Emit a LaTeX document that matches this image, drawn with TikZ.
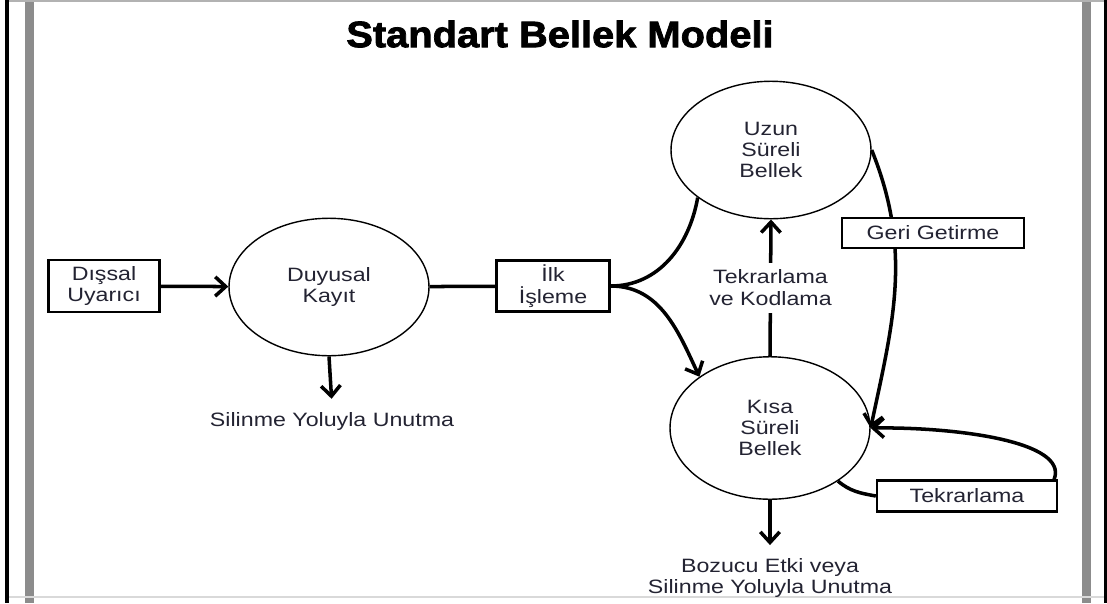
\documentclass[tikz,border=0pt]{standalone}
\usepackage{fontspec}
\setmainfont{Liberation Sans}[FakeStretch=1.2]
\newfontfamily\baslikfont{Liberation Sans}[FakeStretch=1.08,FakeBold=2]
\usetikzlibrary{shapes.geometric,arrows.meta,positioning}
\definecolor{metinRenk}{RGB}{35,35,50}
\definecolor{cerceveGri}{RGB}{140,140,140}

\begin{document}
\begin{tikzpicture}[
  x=0.02cm, y=-0.02cm,
  every node/.style={font=\fontsize{11}{12.2}\selectfont, text=metinRenk},
  kutu/.style={draw, line width=1.3pt, fill=white, align=center, inner sep=2pt},
  bellek/.style={ellipse, draw, line width=0.8pt, minimum width=4cm,
                 minimum height=2.75cm, align=center},
  ok/.style={-{Straight Barb[length=6pt,width=11pt]}, line width=2pt},
  hat/.style={line width=2pt},
]
\useasboundingbox (0,0) rectangle (1107,603);

% Cerceve
\draw[line width=0.08cm] (7,0) -- (7,603);
\fill[cerceveGri] (25,0) rectangle (34,603);
\fill[cerceveGri] (1082,0) rectangle (1091,603);
\draw[line width=0.06cm] (1105,0) -- (1105,603);
\draw[gray!60, line width=0.6pt] (9,1) -- (1104,1);
\draw[gray!30, line width=0.6pt] (9,597) -- (1104,597);

\node[font=\baslikfont\bfseries\fontsize{21}{25}\selectfont, text=black] (baslik) at (560,34)
  {Standart Bellek Modeli};

\node[kutu, minimum width=2.22cm, minimum height=1.04cm] (dis) at (104,286)
  {Dışsal\\Uyarıcı};
\node[bellek] (duy) at (329,287) {Duyusal\\Kayıt};
\node[kutu, minimum width=2.26cm, minimum height=1.02cm] (ilk) at (553,286)
  {İlk\\İşleme};
\node[bellek] (uzun) at (771,150) {Uzun\\Süreli\\Bellek};
\node[bellek, minimum height=2.85cm] (kisa) at (770,428) {Kısa\\Süreli\\Bellek};

\node (sil) at (332,421) {Silinme Yoluyla Unutma};
\node[align=center] (boz) at (770,578) {Bozucu Etki veya\\Silinme Yoluyla Unutma};

\draw[ok] (dis) -- (duy);
\draw[ok, shorten >=4pt] (duy.south) -- (sil.north);
\draw[hat] (duy) -- (ilk);

% Ilk isleme -> iki bellek
\draw[hat] (ilk.east) to[out=0, in=-100] (uzun.213);
\draw[ok] (ilk.east) to[out=0, in=115] (kisa.144);

\draw[ok] (kisa.north) -- (uzun.south)
  node[midway, fill=white, align=center, inner sep=4pt] {Tekrarlama\\ve Kodlama};

% Geri getirme
\draw[ok] (uzun.east) to[out=-68, in=78] (kisa.east);
\node[kutu, minimum width=3.64cm, minimum height=0.6cm] (geri) at (933,233)
  {Geri Getirme};

% Tekrarlama dongusu
\node[kutu, minimum width=3.6cm, minimum height=0.62cm] (tek) at (967,496)
  {Tekrarlama};
\draw[hat] (kisa.-38) to[out=-40, in=170] (tek.west);
\draw[ok] ([xshift=-0.08cm]tek.north east) .. controls +(15,-38) and +(85,-1) .. (kisa.east);

\draw[ok, shorten >=4pt] (kisa.south) -- (boz.north);
\end{tikzpicture}
\end{document}
